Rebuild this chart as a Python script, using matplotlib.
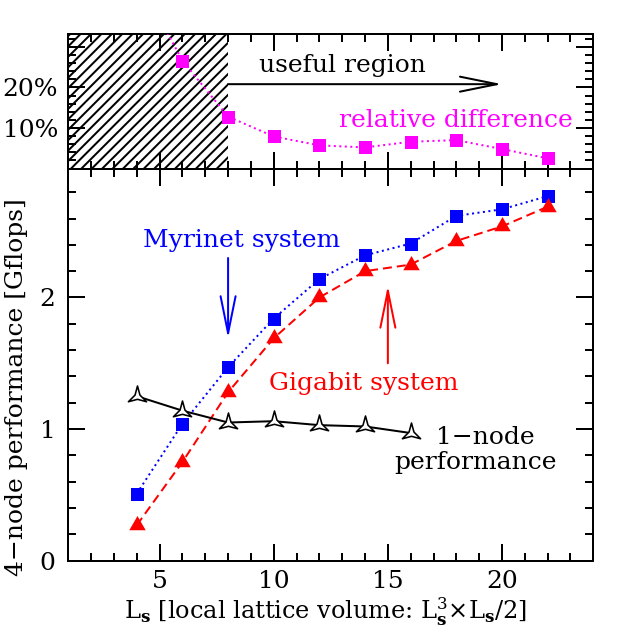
import matplotlib
matplotlib.use('Agg')
import matplotlib.pyplot as plt
from matplotlib.path import Path
from matplotlib.ticker import MultipleLocator, FixedLocator, NullFormatter

DPI = 125
PX = 72 / DPI  # points per pixel

# data
ls = [4, 6, 8, 10, 12, 14, 16, 18, 20, 22]
myrinet = [0.51, 1.04, 1.47, 1.84, 2.14, 2.32, 2.41, 2.62, 2.67, 2.77]
gigabit = [0.27, 0.75, 1.28, 1.69, 2.00, 2.20, 2.25, 2.43, 2.54, 2.69]
ls_single = [4, 6, 8, 10, 12, 14, 16]
single_node = [1.25, 1.14, 1.05, 1.06, 1.03, 1.02, 0.97]
rel_diff = [0.475, 0.266, 0.128, 0.079, 0.057, 0.052, 0.066, 0.070, 0.048, 0.025]

pct_ticks = [0.1, 0.2, 0.3]
pct_labels = ['10%', '20%', '']

plt.rcParams['font.family'] = ['DejaVu Serif']
plt.rcParams['mathtext.fontset'] = 'dejavuserif'
plt.rcParams['font.size'] = 25 * PX
plt.rcParams['axes.linewidth'] = 2 * PX
plt.rcParams['hatch.linewidth'] = 2 * PX
plt.rcParams['lines.scale_dashes'] = False

fig = plt.figure(figsize=(627 / DPI, 627 / DPI), dpi=DPI)
L, R = 68.3 / 627, 593.3 / 627
y_bot, y_mid, y_top = 1 - 560.7 / 627, 1 - 168.5 / 627, 1 - 34.3 / 627
ax = fig.add_axes([L, y_bot, R - L, y_mid - y_bot])
axt = fig.add_axes([L, y_mid, R - L, y_top - y_mid])

# open three pointed star marker (concave sides)
star = Path.unit_regular_star(3, 0.27)

lw = 2 * PX
ax.plot(ls, myrinet, ls=(0, (2 * PX, 3.5 * PX)), color='#0000ff', lw=lw,
        marker='s', ms=13 * PX, mew=0)
ax.plot(ls, gigabit, ls=(0, (9 * PX, 5 * PX)), color='#ff0000', lw=lw,
        marker=(3, 0, 0), ms=19 * PX, mew=0)
ax.plot(ls_single, single_node, '-', color='k', lw=lw,
        marker=star, ms=21 * PX, mfc='white', mec='k', mew=1.6 * PX)

axt.axvspan(1, 8, facecolor='none', edgecolor='k', hatch='////', lw=0)
axt.plot(ls, rel_diff, ls=(0, (2 * PX, 3.5 * PX)), color='#ff00ff', lw=lw,
         marker='s', ms=13 * PX, mew=0, zorder=3)

for a in (ax, axt):
    a.set_xlim(1, 24)
    a.xaxis.set_major_locator(MultipleLocator(5))
    a.xaxis.set_minor_locator(MultipleLocator(1))
    a.tick_params(which='both', direction='in', top=True, right=True,
                  width=2 * PX)
    a.tick_params(which='major', length=17 * PX, pad=13 * PX)
    a.tick_params(which='minor', length=8 * PX)
ax.tick_params(axis='x', which='major', pad=9 * PX)
axt.tick_params(axis='y', which='major', pad=10 * PX)

ax.set_ylim(0, 2.98)
ax.yaxis.set_major_locator(MultipleLocator(1))
ax.yaxis.set_minor_locator(MultipleLocator(0.2))

axt.set_ylim(0, 0.331)
axt.yaxis.set_major_locator(FixedLocator(pct_ticks))
axt.set_yticklabels(pct_labels)
axt.yaxis.set_minor_locator(MultipleLocator(0.02))
axt.xaxis.set_major_formatter(NullFormatter())

head = '->,head_length=%g,head_width=%g' % (37 * PX, 7.5 * PX)
arrow = dict(arrowstyle=head, mutation_scale=1, shrinkA=0, shrinkB=0,
             lw=2 * PX)

axt.annotate('', xy=(20, 0.208), xytext=(8, 0.208),
             arrowprops=dict(arrow, color='k'))
axt.text(13.0, 0.237, 'useful region', ha='center', va='baseline')
axt.text(23.1, 0.102, 'relative difference', ha='right', va='baseline',
         color='#ff00ff')

ax.annotate('', xy=(8, 1.69), xytext=(8, 2.30),
            arrowprops=dict(arrow, color='#0000ff'))
ax.text(8.61, 2.38, 'Myrinet system', ha='center', va='baseline',
        color='#0000ff')
ax.annotate('', xy=(15, 2.09), xytext=(15, 1.50),
            arrowprops=dict(arrow, color='#ff0000'))
ax.text(13.96, 1.30, 'Gigabit system', ha='center', va='baseline',
        color='#ff0000')
ax.text(19.27, 0.89, '1\u2212node', ha='center', va='baseline')
ax.text(18.85, 0.70, 'performance', ha='center', va='baseline')

fig.text(17 / 627, 1 - 387 / 627, '4\u2212node performance [Gflops]',
         rotation=90, ha='center', va='center')
fig.text(325 / 627, 1 - 619 / 627,
         r'L$_\mathbf{s}$ [local lattice volume: L$_\mathbf{s}^3$'
         r'$\times$L$_\mathbf{s}$/2]', ha='center', va='baseline',
         fontsize=24 * PX)

fig.savefig('out.png', dpi=DPI)
